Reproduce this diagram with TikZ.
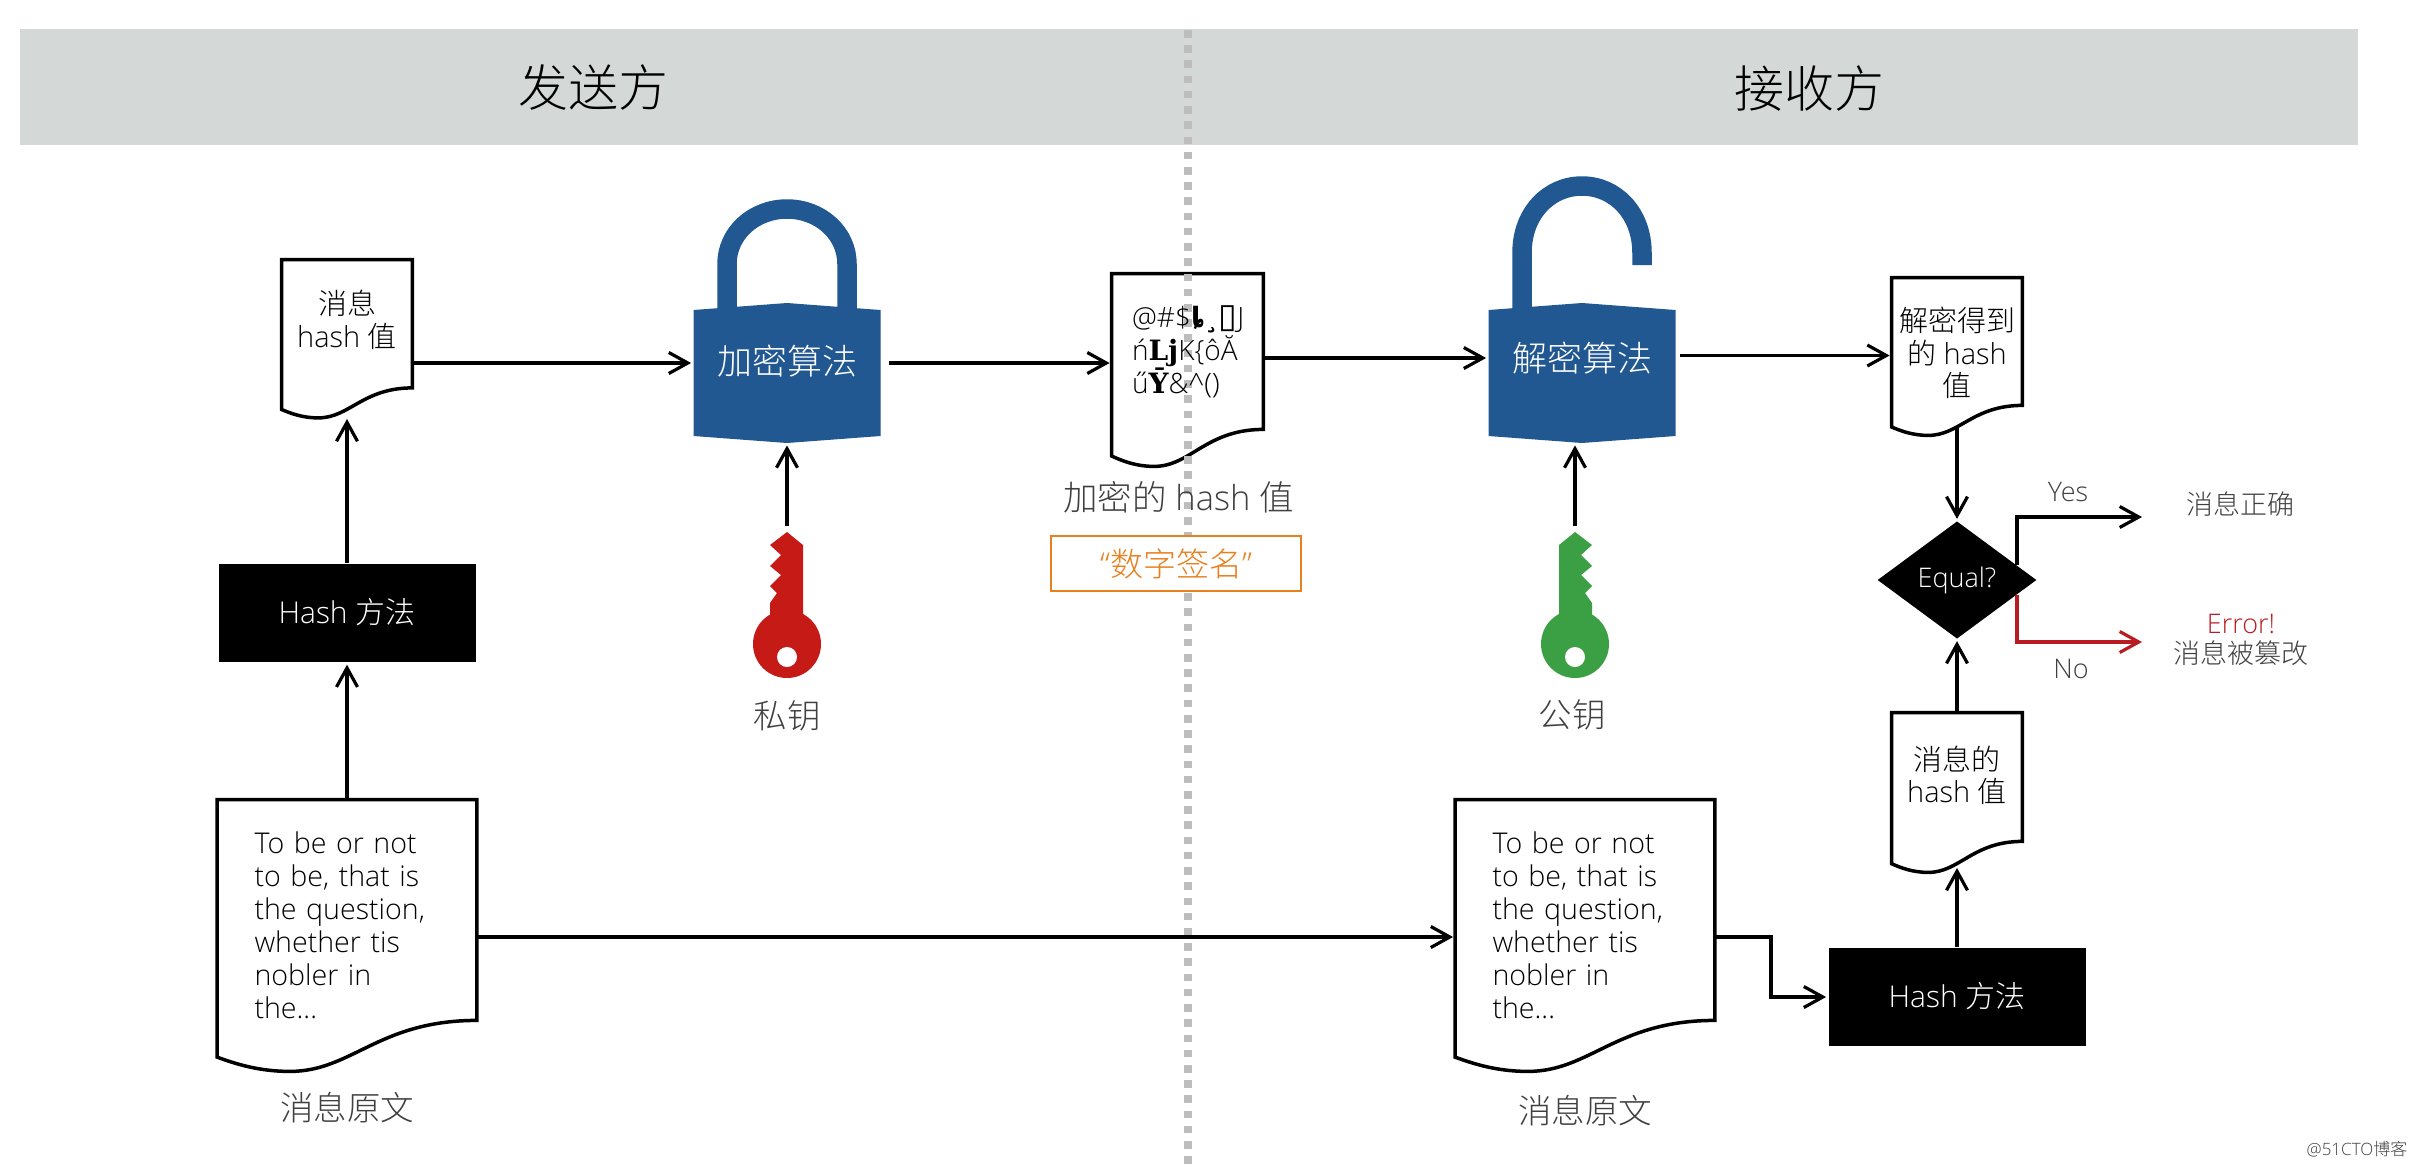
\documentclass[tikz,border=0pt]{standalone}
\usepackage{fontspec}
\setmainfont{Open Sans}[UprightFont=* Light]
\newfontfamily\cjk{Noto Sans CJK SC}[UprightFont=* Light]
\newfontfamily\oddserif{DejaVu Serif}
\newfontfamily\oddsans{DejaVu Sans}
\usetikzlibrary{arrows.meta,positioning,calc,shapes.geometric,backgrounds}
\definecolor{bandgrey}{HTML}{D4D9D8}
\definecolor{dashgrey}{HTML}{BDBDBD}
\definecolor{lockblue}{HTML}{215891}
\definecolor{keyred}{HTML}{C61A17}
\definecolor{keygreen}{HTML}{3BA043}
\definecolor{signorange}{HTML}{E8801E}
\definecolor{nored}{HTML}{B81C22}
\definecolor{capgrey}{HTML}{404040}
\tikzset{
    %Define standard arrow tip
    >={Straight Barb[length=9.5pt,width=10.5pt]},
    % Define arrow style
    arr/.style={
      ->,
      line width=1.6pt,
      shorten >=1pt},
    % Define style for documents, the wave is drawn by \docwave
    docbox/.style={
      rectangle,
      inner sep=0pt,
      align=center,
      text=black,
      font=\fontsize{14.5}{16.25}\selectfont},
    bigdoc/.style={
      docbox,
      minimum width=129.5pt,
      minimum height=110pt,
      inner xsep=18.5pt,
      text width=92.5pt,
      align=left,
      font=\fontsize{14.3}{16.5}\selectfont},
    hashbox/.style={
      rectangle,
      fill=black,
      text=white,
      minimum width=128.5pt,
      minimum height=49.25pt,
      inner sep=0pt,
      font=\fontsize{15}{18}\selectfont},
    locktext/.style={
      rectangle,
      minimum width=93.5pt,
      inner sep=0pt,
      text=white,
      font=\cjk\fontsize{17.5}{20}\selectfont},
    capt/.style={
      inner sep=0pt,
      text=capgrey,
      align=center,
      font=\cjk\fontsize{16.75}{20}\selectfont},
    small/.style={
      inner sep=0pt,
      text=capgrey,
      align=center,
      font=\fontsize{13.5}{15}\selectfont},
    head/.style={
      inner sep=0pt,
      text=black,
      font=\cjk\fontsize{25}{28}\selectfont},
    % padlock, shut and open
    lockshut/.pic={
      \draw[lockblue,line width=9.75pt] (-60,-45) -- (-60,-94)
        .. controls (-60,-125) and (-33,-149) .. (0,-149)
        .. controls (33,-149) and (60,-125) .. (60,-94) -- (60,-45);
      \fill[lockblue] (-93.5,-48) -- (0,-55) -- (93.5,-48) -- (93.5,78) -- (0,85) -- (-93.5,78) -- cycle;
    },
    lockopen/.pic={
      \draw[lockblue,line width=9.75pt] (-60,-45) -- (-60,-105)
        .. controls (-60,-145) and (-33,-172) .. (0,-172)
        .. controls (33,-172) and (60,-145) .. (60,-105) -- (60,-93);
      \fill[lockblue] (-93.5,-48) -- (0,-55) -- (93.5,-48) -- (93.5,78) -- (0,85) -- (-93.5,78) -- cycle;
    },
    % key, the origin is its tip
    keyicon/.pic={
      \coordinate (-top) at (0,0);
      \fill[#1] (0,0) -- (16,13) -- (16,90) -- (-17,90) -- (-17,71) -- (-10,61)
        -- (-17,54) -- (-6,43) -- (-17,34) -- (-6,23) -- (-17,13) -- cycle;
      \fill[#1] (0,112) circle [radius=17pt];
      \fill[white] (0,125) circle [radius=5pt];
    }
}
% outline of a document below and around its node
\newcommand{\docwave}[2]{
  \begin{pgfonlayer}{background}
    \filldraw[fill=white,draw=black,line width=1.75pt]
      (#1.north west) -- (#1.north east) -- (#1.south east)
      .. controls ($(#1.south west)!.62!(#1.south east)$) and ($(#1.south west)!.52!(#1.south east)+(0,#2)$)
      .. ($(#1.south west)!.28!(#1.south east)+(0,#2)$)
      .. controls ($(#1.south west)!.16!(#1.south east)+(0,#2)$) and ($(#1.south west)!.07!(#1.south east)+(0,.85*#2)$)
      .. ($(#1.south west)+(0,.72*#2)$) -- cycle;
  \end{pgfonlayer}
}
\begin{document}
\begin{tikzpicture}[x=.5pt,y=-.5pt]
    \useasboundingbox (0,0) rectangle (2416,1168);
    % title band and divider
    \node[rectangle,fill=bandgrey,minimum width=1169pt,minimum height=57.75pt,inner sep=0pt] (band) at (1189,87) {};
    \coordinate (divtop) at (1188,30);
    \coordinate (divbot) at (1188,1164);
    \draw[dashgrey,line width=4pt,dash pattern=on 3.8pt off 3.81pt] (divtop) -- (divbot);
    \node[head] (sender) at (593,88) {发送方};
    \node[head] (receiver) at (1809,88) {接收方};

    % sender
    \node[bigdoc] (plainA) at (347,910) {\rule{0pt}{26pt}To be or not\\to be, that is\\the question,\\whether tis\\nobler in\\the...};
    \docwave{plainA}{51}
    \node[capt, below=35.5pt of plainA] (plainAcap) {消息原文};
    \node[hashbox] (hashA) at (347,613) {\raisebox{2pt}{Hash {\cjk 方法}}};
    \node[docbox,minimum width=65pt,minimum height=63.75pt] (digestA) at (347,323.75) {{\cjk 消息}\\\rule[-5pt]{0pt}{0pt}hash {\cjk 值}};
    \docwave{digestA}{30}
    \pic at (787,358) {lockshut};
    \node[locktext,minimum height=80pt] (lockA) at (787,363) {\raisebox{3pt}{加密算法}};
    \pic (keyA) at (787,532) {keyicon=keyred};
    \node[capt] (keyAcap) at (787,716) {私钥};
    \node[docbox,minimum width=75.5pt,minimum height=77.5pt,inner xsep=10pt,text width=55.5pt,align=left,font=\fontsize{14}{16.5}\selectfont] (signed) at (1187.5,351.5)
      {\mbox{@\#\$\oddsans\bfseries ȴ¸{\fontsize{17}{17}\selectfont ▯}\normalfont\rmfamily J}\\\mbox{ń{\oddserif\bfseries Lj}K\{ôĂ}\\\mbox{ű{\oddserif\bfseries Ȳ}\&\^{}()}};
    \docwave{signed}{37}
    \node[capt,font=\fontsize{17.25}{20}\selectfont] (signedcap) at (1178.5,497.5) {{\cjk 加密的} hash {\cjk 值}};
    \node[rectangle,draw=signorange,fill=white,line width=1pt,text=signorange,minimum width=125pt,minimum height=27.25pt,inner sep=0pt,font=\fontsize{16.5}{20}\selectfont] (sign) at (1176,563.5) {“{\cjk 数字签名}”};

    % receiver
    \node[bigdoc] (plainB) at (1585,910) {\rule{0pt}{26pt}To be or not\\to be, that is\\the question,\\whether tis\\nobler in\\the...};
    \docwave{plainB}{51}
    \node[capt, below=37pt of plainB] (plainBcap) {消息原文};
    \node[hashbox] (hashB) at (1957,997) {\raisebox{2pt}{Hash {\cjk 方法}}};
    \node[docbox,minimum width=65pt,minimum height=64pt] (digestB) at (1957,777) {{\cjk 消息的}\\\rule[-3pt]{0pt}{0pt}hash {\cjk 值}};
    \docwave{digestB}{31}
    \pic at (1582,358) {lockopen};
    \node[locktext,minimum height=85pt] (lockB) at (1582,358) {解密算法};
    \pic[xscale=-1] (keyB) at (1575,532) {keyicon=keygreen};
    \node[capt] (keyBcap) at (1572,715) {公钥};
    \node[docbox,minimum width=65pt,minimum height=63.5pt] (digestC) at (1957,341.5) {\rule{0pt}{24pt}{\cjk 解密得到}\\{\cjk 的} hash\\{\cjk 值}};
    \docwave{digestC}{30}
    \node[diamond,fill=black,text=white,minimum width=79.5pt,minimum height=58.7pt,inner sep=0pt,aspect=1.35,font=\fontsize{13.5}{16}\selectfont] (equal) at (1957,580) {Equal?};
    \node[small,font=\cjk\fontsize{13.5}{15}\selectfont] (okmsg) at (2240,504) {消息正确};
    \node[small] (errmsg) at (2241,640) {\textcolor{nored}{Error!}\\{\cjk 消息被篡改}};
    \node[small] (yeslbl) at (2068,492) {Yes};
    \node[small] (nolbl) at (2071,669) {No};
    \coordinate (yestip) at (2144,517);
    \coordinate (notip) at (2144,642);

    % sender arrows
    \draw[arr] (hashA.north) -- (digestA.south |- 0,417);
    \draw[arr] (plainA.north -| hashA) -- (hashA.south);
    \draw[arr] (lockA.west -| digestA.east) -- (lockA.west);
    \draw[arr,shorten <=4pt] (lockA.east) -- (lockA.east -| signed.west);
    \draw[arr,shorten <=3pt] (keyA-top) -- (keyA-top |- lockA.south);

    % receiver arrows
    \draw[arr] (lockB.west -| signed.east) -- (lockB.west);
    \draw[arr,shorten <=2pt] ($(lockB.east)+(0,-2.5)$) -- ($(lockB.east -| digestC.west)+(0,-2.5)$);
    \draw[arr,shorten <=3pt] (keyB-top) -- (keyB-top |- lockB.south);
    \draw[arr] (plainA.east |- 0,937) -- (plainB.west |- 0,937);
    \draw[arr] (plainB.east |- 0,937) -| (1771,997) -- (hashB.west);
    \draw[arr] (hashB.north) -- (digestB.south |- 0,866);
    \draw[arr] (digestB.north) -- (equal.south);
    \draw[arr] (digestC.south |- 0,428) -- (equal.north);
    \draw[arr] ($(equal.east)!.25!(equal.north)$) |- (yestip);
    \draw[arr,nored] ($(equal.east)!.25!(equal.south)$) |- (notip);

    \node[inner sep=0pt,text=capgrey,font=\fontsize{8.5}{11}\selectfont] (mark) at (2357,1149) {@51CTO{\cjk 博客}};
\end{tikzpicture}
\end{document}
